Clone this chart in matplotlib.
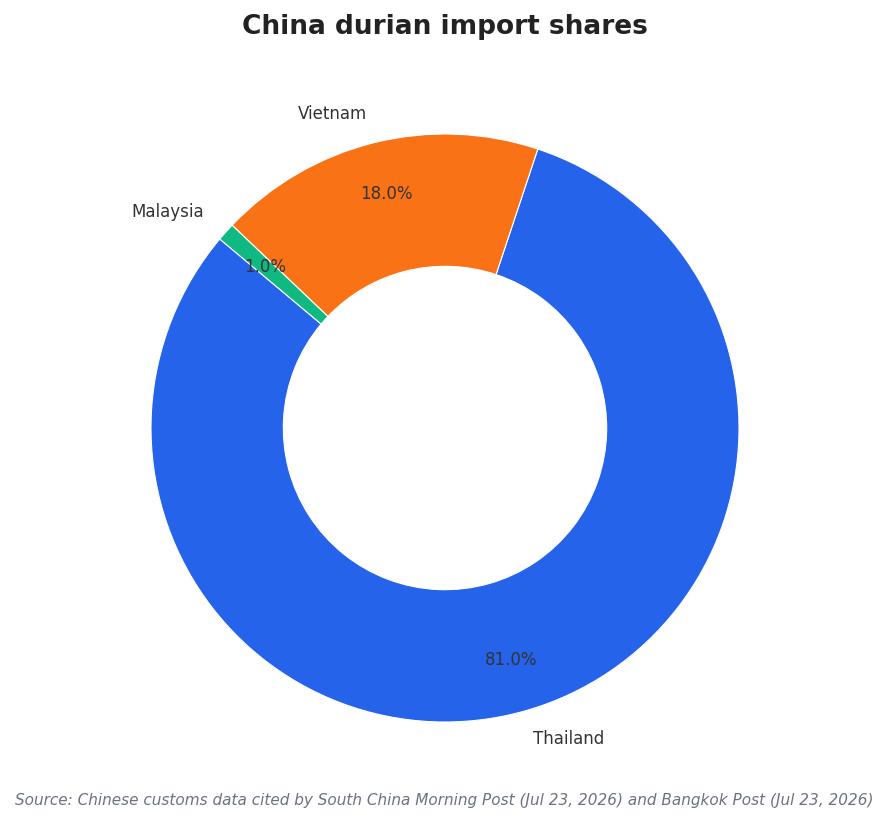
import matplotlib.pyplot as plt

plt.rcParams["font.family"] = ["DejaVu Sans"]

# Import share data
countries = ["Thailand", "Vietnam", "Malaysia"]
shares = [81.0, 18.0, 1.0]
colors = ["#2563EB", "#F97316", "#10B981"]

fig = plt.figure(figsize=(8.9, 8.24), dpi=100)

# Place the pie so that its centre and radius match the reference
r_px = 294
cx, cy = 445, 824 - 428
span = 2.5 * r_px
ax = fig.add_axes([(cx - span / 2) / 890, (cy - span / 2) / 824, span / 890, span / 824])

wedges, texts, autotexts = ax.pie(
    shares,
    labels=countries,
    colors=colors,
    startangle=140,
    autopct="%1.1f%%",
    pctdistance=0.82,
    labeldistance=1.1,
    wedgeprops=dict(width=0.45, edgecolor="white", linewidth=0.8),
    textprops=dict(fontsize=12, color="#333333"),
)
ax.set_xlim(-1.25, 1.25)
ax.set_ylim(-1.25, 1.25)
ax.set_aspect("equal")

fig.text(0.5, 1 - 27 / 824, "China durian import shares", ha="center", va="center",
         fontsize=19, fontweight="bold", color="#222222")
fig.text(15 / 890, 1 - 801 / 824,
         "Source: Chinese customs data cited by South China Morning Post (Jul 23, 2026) and Bangkok Post (Jul 23, 2026)",
         ha="left", va="center", fontsize=11, style="italic", color="#6B7280")

fig.savefig("out.png", dpi=100)
